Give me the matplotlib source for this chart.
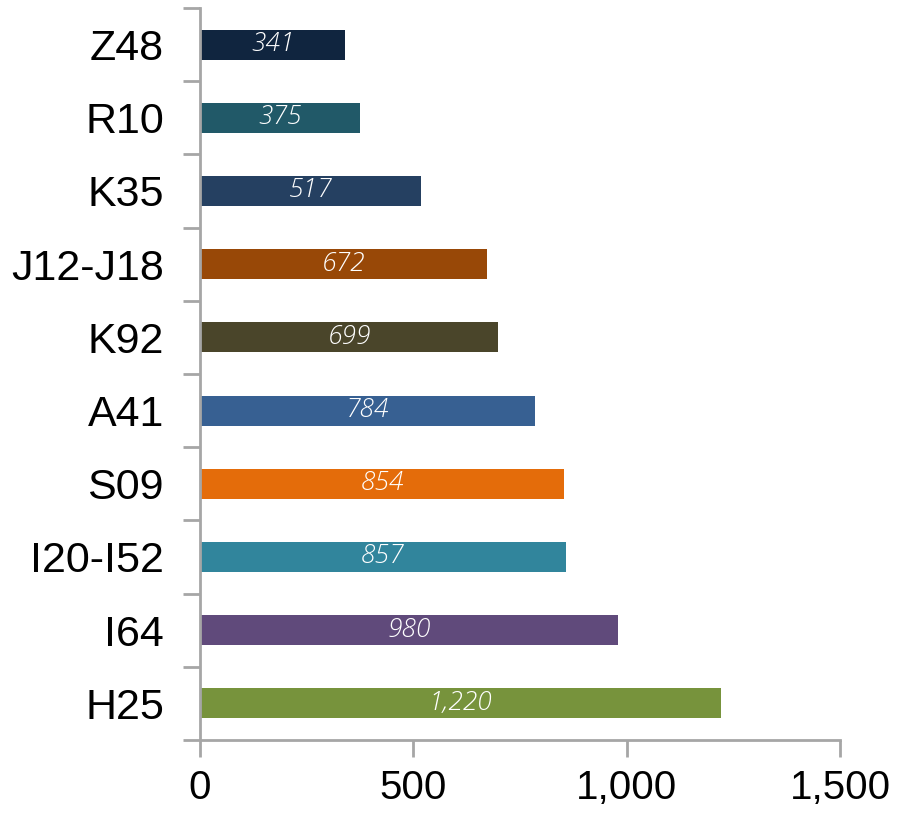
import matplotlib
matplotlib.use("Agg")
import matplotlib.pyplot as plt
import numpy as np

categories = ["Z48", "R10", "K35", "J12-J18", "K92", "A41", "S09", "I20-I52", "I64", "H25"]
values = [341, 375, 517, 672, 699, 784, 854, 857, 980, 1220]
colors = ["#10253f", "#215968", "#254061", "#984807", "#4a452a",
          "#376092", "#e46c0a", "#31859c", "#604a7b", "#77933c"]
xticks = [0, 500, 1000, 1500]
xtick_labels = ["0", "500", "1,000", "1,500"]

fig = plt.figure(figsize=(8.98, 8.14), dpi=100)
ax = fig.add_axes([200/898, 74/814, 640/898, 732/814])

y = np.arange(len(categories))
ax.barh(y, values, height=0.41, color=colors)
for yi, v in zip(y, values):
    ax.text(v/2, yi, f"{v:,}", ha="center", va="center", color="white",
            fontsize=19, family=["Open Sans", "DejaVu Sans"], fontstyle="italic",
            fontweight="light")

ax.set_xlim(0, 1500)
ax.set_ylim(len(categories) - 0.5, -0.5)
ax.set_xticks(xticks)
ax.set_xticklabels(xtick_labels, fontsize=29, family="Liberation Sans")
ax.set_yticks(np.arange(len(categories) + 1) - 0.5)
ax.set_yticklabels([])
ax.set_yticks(y, minor=True)
ax.set_yticklabels(categories, minor=True, fontsize=31, family="Liberation Sans")
ax.tick_params(axis="y", which="minor", length=0, pad=26)
ax.tick_params(axis="y", which="major", length=12, width=2, color="#a6a6a6")
ax.tick_params(axis="x", length=12, width=2, color="#a6a6a6", pad=9)
for s in ["top", "right"]:
    ax.spines[s].set_visible(False)
for s in ["left", "bottom"]:
    ax.spines[s].set_color("#a6a6a6")
    ax.spines[s].set_linewidth(2)

fig.savefig("out.png", dpi=100)
